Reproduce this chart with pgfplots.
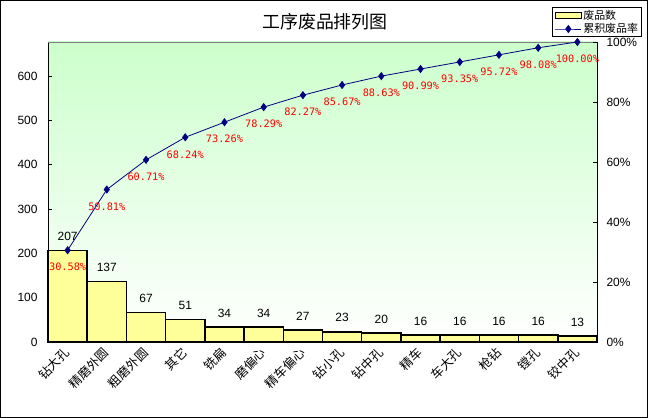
\documentclass[border=0pt]{standalone}
\usepackage{fontspec}
\setmainfont{Liberation Sans}
\newfontfamily\cjk{Noto Sans CJK SC}
\newfontfamily\mono{DejaVu Sans Mono}
\usepackage{pgfplots}
\pgfplotsset{compat=1.18}
\definecolor{baryellow}{HTML}{FFFF99}
\definecolor{navy}{HTML}{000080}
\definecolor{bggreen}{HTML}{CCFFCC}
\pgfplotsset{
  rectlegend/.style={legend image code/.code={\draw[##1] (0bp,-3bp) rectangle (26bp,3bp);}},
  mylinelegend/.style={legend image code/.code={\draw[mark repeat=2,mark phase=2,##1] plot coordinates {(0bp,0bp) (13bp,0bp) (26bp,0bp)};}},
}
\begin{document}
\begin{tikzpicture}
\fill[white] (0,0) rectangle (648bp,418bp);
\useasboundingbox (0,0) rectangle (648bp,418bp);
\begin{axis}[
  at={(48bp,76bp)}, anchor=south west,
  width=549bp, height=300bp, scale only axis,
  xmin=-0.5, xmax=13.5, ymin=0, ymax=677,
  clip=false,
  axis x line*=bottom, axis y line*=left,
  axis line style={black, line width=0.8bp},
  axis background/.style={shade, top color=bggreen, middle color=bggreen!75!white, bottom color=white},
  /pgf/number format/assume math mode=true,
  ytick={0,100,...,600},
  tick align=inside, major tick length=4bp,
  y tick style={black, line width=0.8bp},
  xtick={0,...,13},
  x tick style={draw=none},
  xticklabels={钻大孔,精磨外圆,粗磨外圆,其它,铣扁,磨偏心,精车偏心,钻小孔,钻中孔,精车,车大孔,枪钻,镗孔,铰中孔},
  xticklabel style={rotate=45, anchor=east, yshift=-3bp, font=\cjk\fontsize{12.5}{13}\selectfont},
  yticklabel style={font=\fontsize{12}{14}\selectfont, xshift=-7bp},
  ybar, bar width=1,
]
\addplot[fill=baryellow, draw=black, line width=1.5bp,
  nodes near coords,
  every node near coord/.append style={font=\fontsize{12}{14}\selectfont, black, yshift=5.7bp}]
  coordinates {(0,207) (1,137) (2,67) (3,51) (4,34) (5,34) (6,27) (7,23) (8,20) (9,16) (10,16) (11,16) (12,16) (13,13)};
\draw[gray, line width=0.8bp] (rel axis cs:0,1) -- (rel axis cs:1,1);
\end{axis}
\begin{axis}[
  at={(48bp,76bp)}, anchor=south west,
  width=549bp, height=300bp, scale only axis,
  xmin=-0.5, xmax=13.5, ymin=0, ymax=100,
  clip=false,
  axis x line=none, axis y line*=right,
  axis line style={black, line width=0.8bp},
  /pgf/number format/assume math mode=true,
  ytick={0,20,...,100},
  yticklabel={\pgfmathprintnumber{\tick}\%},
  yticklabel style={font=\fontsize{12}{14}\selectfont, xshift=6bp},
  tick align=inside, major tick length=4bp,
  y tick style={black, line width=0.8bp},
  legend style={at={(1.082,1.1167)}, anchor=north east, draw=black, line width=0.8bp, fill=white,
    font=\cjk\fontsize{11}{13}\selectfont, inner xsep=2bp, inner ysep=1bp, row sep=0bp,
    nodes={inner sep=1.5bp}},
  legend cell align=left,
]
\addlegendimage{fill=baryellow, draw=black, line width=1bp, rectlegend}
\addlegendentry{废品数}
\addplot[navy, line width=0.8bp, mark=diamond*, mark size=3.5bp,
  mark options={fill=navy, draw=navy},
  mylinelegend,
  nodes near coords={\pgfmathprintnumber[fixed,fixed zerofill,precision=2]{\pgfplotspointmeta}\%},
  every node near coord/.append style={font=\mono\fontsize{10.3}{12}\selectfont, red, anchor=center, yshift=-17bp}]
  coordinates {(0,30.58) (1,50.81) (2,60.71) (3,68.24) (4,73.26) (5,78.29) (6,82.27) (7,85.67) (8,88.63) (9,90.99) (10,93.35) (11,95.72) (12,98.08) (13,100.00)};
\addlegendentry{累积废品率}
\end{axis}
\node[font=\cjk\fontsize{18}{20}\selectfont] at (325bp,396bp) {工序废品排列图};
\draw[black, line width=1bp] (0.5bp,0.5bp) rectangle (647.5bp,417.5bp);
\end{tikzpicture}
\end{document}
